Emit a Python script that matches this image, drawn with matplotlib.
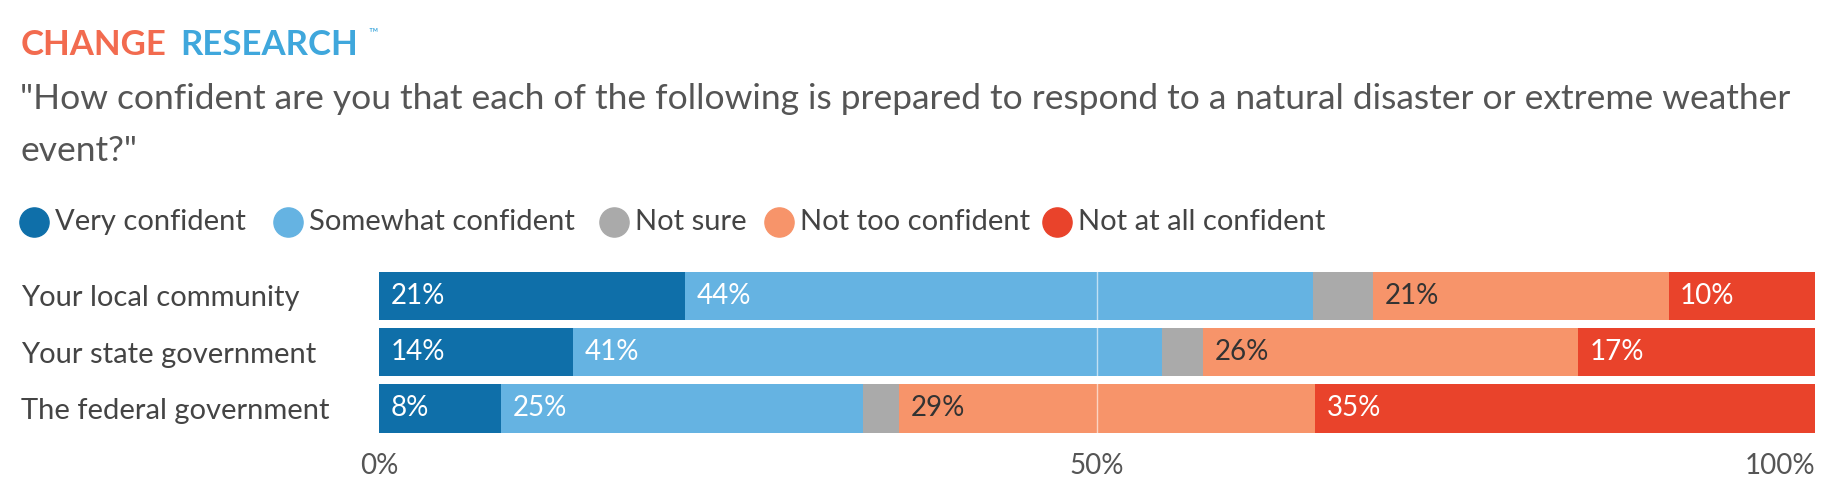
"""Confidence in disaster preparedness, by level of government"""

import matplotlib.pyplot as plt
from matplotlib.lines import Line2D
from numpy import array

plt.rcParams["font.family"] = ["Lato", "DejaVu Sans"]

rows = ["Your local community", "Your state government", "The federal government"]
series = ["Very confident", "Somewhat confident", "Not sure", "Not too confident", "Not at all confident"]
very = [21.3, 13.5, 8.5]
somewhat = [43.7, 41.0, 25.2]
not_sure = [4.2, 2.9, 2.5]
not_too = [20.6, 26.1, 29.0]
not_at_all = [10.2, 16.6, 34.8]
labels = [
    ["21%", "14%", "8%"],
    ["44%", "41%", "25%"],
    ["", "", ""],
    ["21%", "26%", "29%"],
    ["10%", "17%", "35%"],
]
colors = ["#0f6fa9", "#65b3e2", "#aaaaaa", "#f7946a", "#e9432b"]
text_colors = ["white", "white", "white", "#333333", "white"]

values = array([very, somewhat, not_sure, not_too, not_at_all])

fig = plt.figure(figsize=(18.4, 4.96), dpi=100)
ax = fig.add_axes([0.206, 0.12, 0.786 - 0.0055, 0.34])

# Stack the bars left to right
left = array([0.0, 0.0, 0.0])
for i in range(len(series)):
    plt.barh(rows, values[i], left=left, color=colors[i], height=0.86, zorder=2)
    for j in range(len(rows)):
        if labels[i][j]:
            plt.text(left[j] + 0.8, j, labels[i][j], va="center", ha="left",
                     fontsize=20, color=text_colors[i], zorder=3)
    left = left + values[i]

plt.xlim(0, 100)
plt.ylim(2.5, -0.5)
plt.xticks([0, 50, 100], ["0%", "50%", "100%"], fontsize=20, color="#555555")
ax.get_xticklabels()[-1].set_ha("right")
plt.yticks(fontsize=21, color="#444444")
ax.set_yticklabels(rows, ha="left")
ax.tick_params(axis="y", pad=258, length=0)
ax.tick_params(axis="x", length=0, pad=12)
for s in ax.spines.values():
    s.set_visible(False)
plt.axvline(50, color="white", linewidth=1, alpha=0.6, zorder=2.5)

# Header
fig.text(0.011, 0.91, "CHANGE", fontsize=25, fontweight="bold", color="#f26b4f", va="center")
fig.text(0.098, 0.91, "RESEARCH", fontsize=25, fontweight="bold", color="#3fa7dc", va="center")
fig.text(0.200, 0.935, "™", fontsize=9, color="#3fa7dc", va="center")
fig.text(0.011, 0.80, "\"How confident are you that each of the following is prepared to respond to a natural disaster or extreme weather",
         fontsize=25.5, color="#555555", va="center")
fig.text(0.011, 0.695, "event?\"", fontsize=25.5, color="#555555", va="center")

# Legend
legend_x = [0.011, 0.149, 0.326, 0.416, 0.567]
for i in range(len(series)):
    fig.add_artist(Line2D([legend_x[i] + 0.0075], [0.552], marker="o", markersize=21,
                          color=colors[i], transform=fig.transFigure))
    fig.text(legend_x[i] + 0.019, 0.552, series[i], fontsize=21, color="#444444", va="center")

plt.savefig("out.png", dpi=100)
